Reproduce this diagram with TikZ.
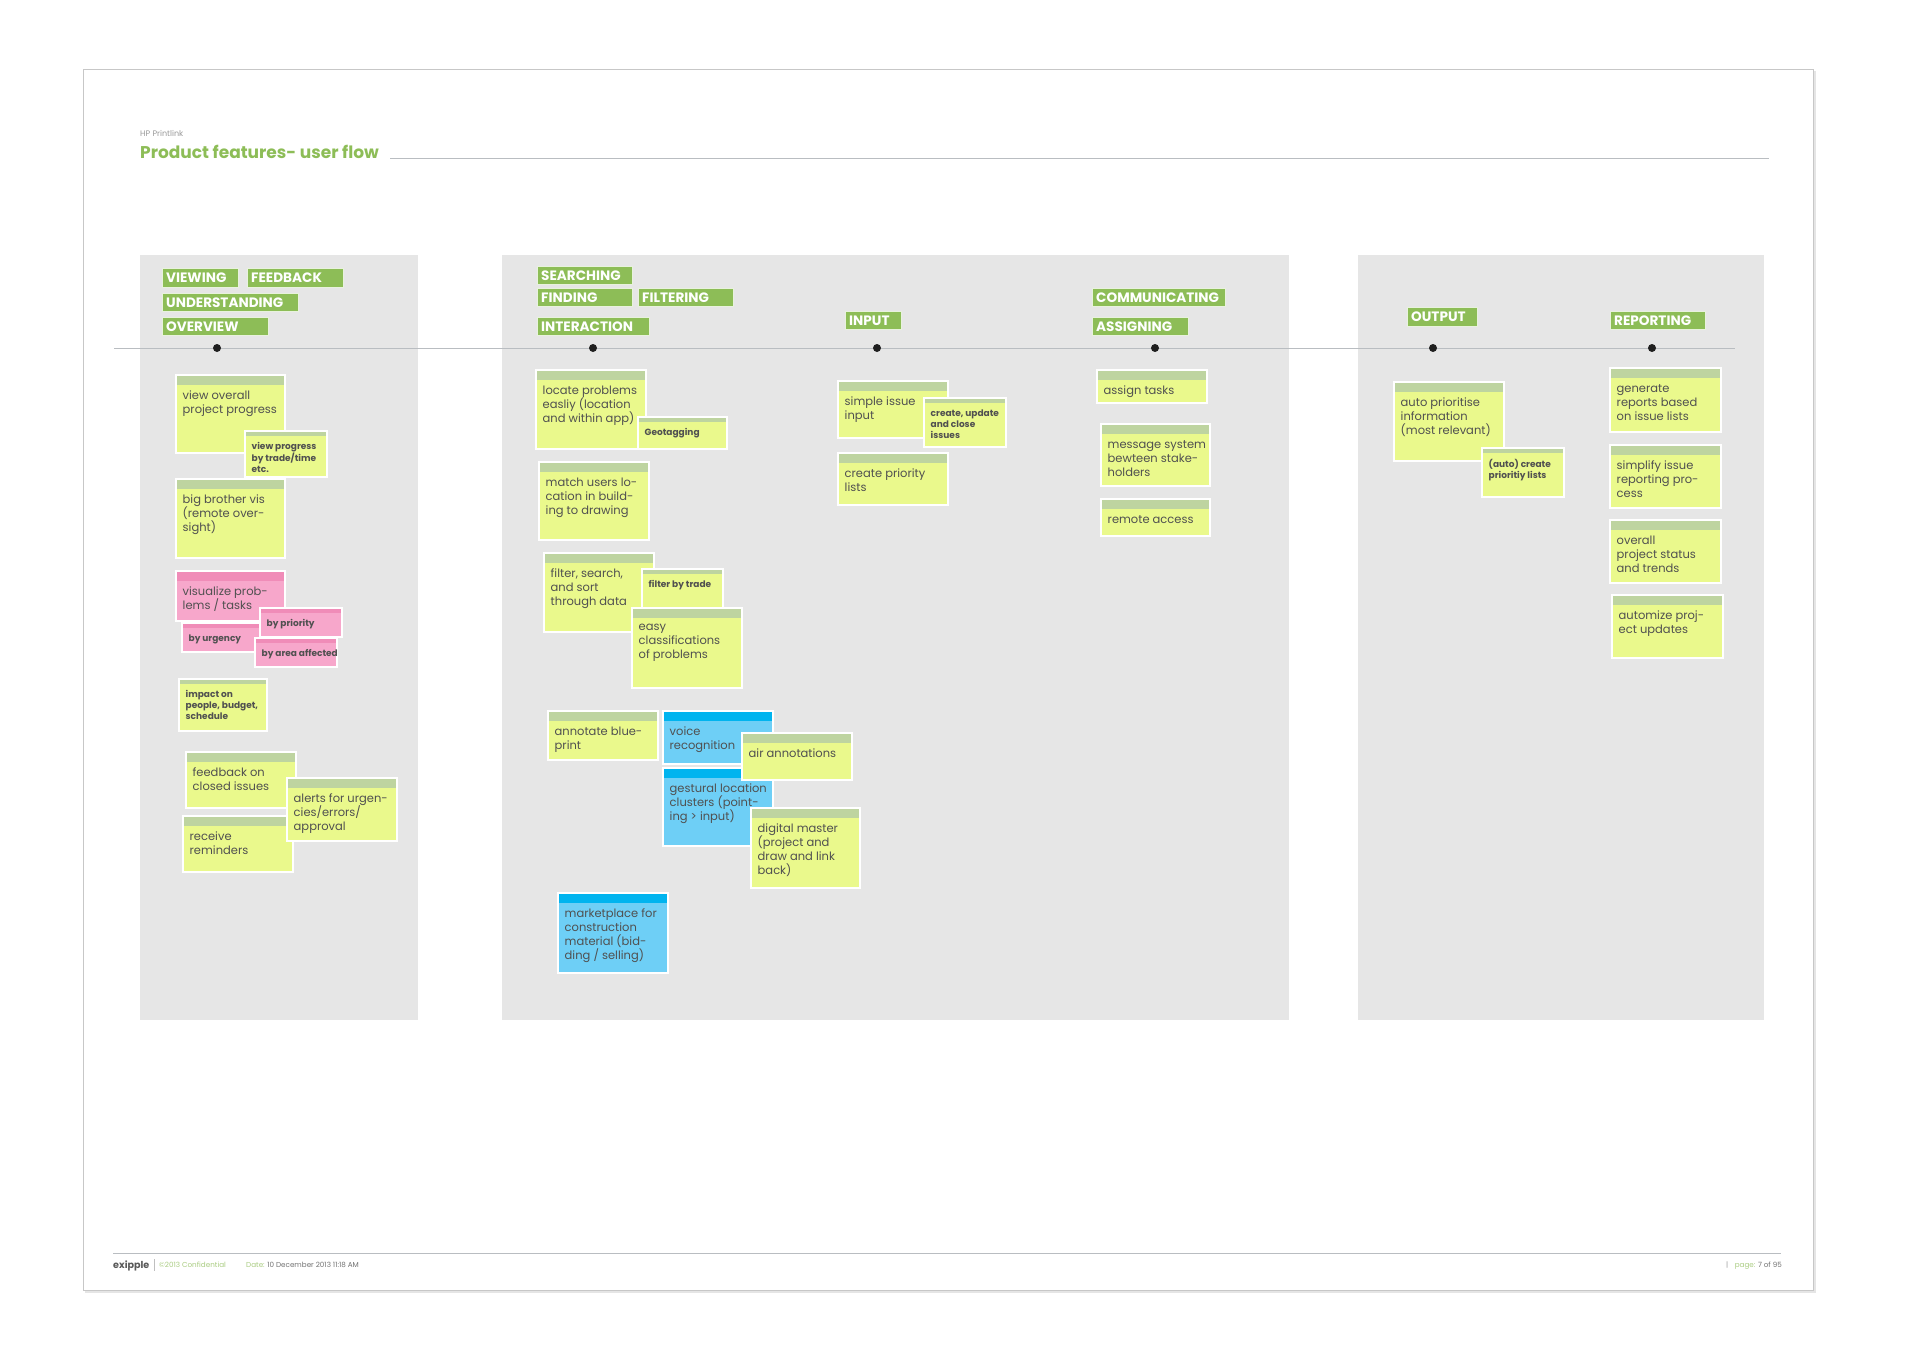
\documentclass[tikz,border=0pt]{standalone}
\usepackage{fontspec}
\setmainfont{Poppins}
\usetikzlibrary{calc}
\definecolor{labgreen}{RGB}{141,189,87}
\definecolor{yh}{RGB}{190,212,160}
\definecolor{yb}{RGB}{234,249,140}
\definecolor{ph}{RGB}{240,140,184}
\definecolor{pb}{RGB}{247,167,203}
\definecolor{bh}{RGB}{0,180,239}
\definecolor{bb}{RGB}{110,207,246}
\definecolor{panel}{RGB}{230,230,230}
\definecolor{txt}{RGB}{80,80,80}
\definecolor{rulec}{RGB}{185,189,193}
\definecolor{ltgreen}{RGB}{170,205,130}
\tikzset{
 notebox/.style={draw=white, line width=1.5pt, inner sep=0pt, outer sep=0pt},
 big/.style={font=\fontsize{11.5}{14}\selectfont, text=txt, align=left, inner sep=0pt},
 small/.style={font=\bfseries\fontsize{9}{11}\selectfont, text=txt, align=left, inner sep=0pt},
 labbox/.style={fill=labgreen, draw=white!80!labgreen, line width=0.8pt, inner sep=0pt},
 labtext/.style={font=\bfseries\fontsize{13.6}{15}\selectfont, text=white, inner sep=0pt},
 dotn/.style={circle, fill=black!88, inner sep=0pt, minimum size=8pt},
 foot/.style={font=\fontsize{7.2}{9}\selectfont, inner sep=0pt},
}
% name, x1, y1, x2, y2, header height, colour prefix, text style, text
\newcommand\stick[9]{%
 \node[notebox, fill=#7b, minimum width={#4-#2}, minimum height={#5-#3}, anchor=north west] (#1) at (#2,#3) {};
 \fill[#7h] ($(#1.north west)+(0.75,0.75)$) rectangle ($(#1.north east)+(-0.75,#6)$);
 \node[#8, anchor=north west] (#1t) at ($(#1.north west)+(6.5,#6+6.5)$) {#9};
}
% name, x, y, w, h, text
\newcommand\lab[6]{%
 \node[labbox, minimum width=#4, minimum height=#5, anchor=north west] (#1) at (#2,#3) {};
 \node[labtext, anchor=west] (#1t) at ($(#1.west)+(4,0)$) {#6};
}
\begin{document}
\begin{tikzpicture}[x=1pt,y=-1pt]
\useasboundingbox (0,0) rectangle (1920,1360);
% page
\fill[black!10] (85,71) rectangle (1816,1293);
\fill[white, draw=black!22, line width=0.8pt] (83,69) rectangle (1813,1290);
% header
\node[font=\fontsize{8}{10}\selectfont, text=black!40, anchor=base west, inner sep=0pt] (hp) at (140,136) {HP Printlink};
\node[font=\fontsize{17}{20}\selectfont\bfseries, text=labgreen, anchor=base west, inner sep=0pt] (title) at (140,158) {Product features- user flow};
\coordinate (hl0) at (390,158);
\coordinate (hl1) at (1769,158);
\draw[rulec, line width=0.8pt] (hl0) -- (hl1);
% panels
\fill[panel] (140,255) rectangle (418,1020);
\fill[panel] (502,255) rectangle (1289,1020);
\fill[panel] (1358,255) rectangle (1764,1020);
% labels
\lab{viewing}{162}{268}{76}{19}{VIEWING}
\lab{feedback}{247}{268}{96}{19}{FEEDBACK}
\lab{underst}{162}{293}{136}{18}{UNDERSTANDING}
\lab{overview}{162}{317}{106}{18}{OVERVIEW}
\lab{searching}{537}{266}{95}{18}{SEARCHING}
\lab{finding}{537}{288}{95}{18}{FINDING}
\lab{filtering}{638}{288}{95}{18}{FILTERING}
\lab{interaction}{537}{317}{112}{18}{INTERACTION}
\lab{input}{845}{311}{56}{18}{INPUT}
\lab{communicating}{1092}{288}{133}{18}{COMMUNICATING}
\lab{assigning}{1092}{317}{96}{18}{ASSIGNING}
\lab{output}{1407}{307}{70}{19}{OUTPUT}
\lab{reporting}{1610}{311}{95}{18}{REPORTING}
% timeline
\coordinate (tl0) at (114,348);
\coordinate (tl1) at (1735,348);
\draw[rulec, line width=1pt] (tl0) -- (tl1);
\node[dotn] (d1) at (217,348) {};
\node[dotn] (d2) at (593,348) {};
\node[dotn] (d3) at (877,348) {};
\node[dotn] (d4) at (1155,348) {};
\node[dotn] (d5) at (1433,348) {};
\node[dotn] (d6) at (1652,348) {};
% left panel notes
\stick{n1}{176}{375}{285}{453}{9.5}{y}{big}{view overall\\project progress}
\stick{n2}{245}{431}{327}{477}{5}{y}{small}{view progress\\by trade/time\\etc.}
\stick{n3}{176}{479}{285}{558}{9.5}{y}{big}{big brother vis\\(remote over-\\sight)}
\stick{p1}{176}{571}{285}{621}{9.5}{p}{big}{visualize prob-\\lems / tasks}
\stick{p2}{182}{623}{264}{652}{5}{p}{small}{by urgency}
\stick{p3}{260}{608}{342}{637}{5}{p}{small}{by priority}
\stick{p4}{255}{638}{337}{667}{5}{p}{small}{by area affected}
\stick{n6}{179}{679}{267}{731}{5}{y}{small}{impact on\\people, budget,\\schedule}
\stick{n7}{186}{752}{296}{808}{9.5}{y}{big}{feedback on\\closed issues}
\stick{n8}{183}{816}{293}{872}{9.5}{y}{big}{receive\\reminders}
\stick{n9}{287}{778}{397}{841}{9.5}{y}{big}{alerts for urgen-\\cies/errors/\\approval}
% middle panel notes
\stick{m1}{536}{370}{646}{449}{9.5}{y}{big}{locate problems\\easliy (location\\and within app)}
\stick{m2}{638}{417}{727}{449}{5}{y}{small}{Geotagging}
\stick{m3}{539}{462}{649}{540}{9.5}{y}{big}{match users lo-\\cation in build-\\ing to drawing}
\stick{m4}{544}{553}{654}{632}{9.5}{y}{big}{filter, search,\\and sort\\through data}
\stick{m5}{642}{569}{723}{608}{5}{y}{small}{filter by trade}
\stick{m6}{632}{608}{742}{688}{9.5}{y}{big}{easy\\classifications\\of problems}
\stick{m7}{548}{711}{658}{760}{9.5}{y}{big}{annotate blue-\\print}
\stick{b1}{663}{711}{773}{764}{9.5}{b}{big}{voice\\recognition}
\stick{b2}{663}{768}{773}{846}{9.5}{b}{big}{gestural location\\clusters (point-\\ing > input)}
\stick{m8}{742}{733}{852}{780}{9.5}{y}{big}{air annotations}
\stick{m9}{751}{808}{860}{888}{9.5}{y}{big}{digital master\\(project and\\draw and link\\back)}
\stick{b3}{558}{893}{668}{973}{9.5}{b}{big}{marketplace for\\construction\\material (bid-\\ding / selling)}
\stick{i1}{838}{381}{948}{438}{9.5}{y}{big}{simple issue\\input}
\stick{i2}{924}{398}{1006}{447}{5}{y}{small}{create, update\\and close\\issues}
\stick{i3}{838}{453}{948}{505}{9.5}{y}{big}{create priority\\lists}
\stick{c1}{1097}{370}{1207}{403}{9.5}{y}{big}{assign tasks}
\stick{c2}{1101}{424}{1210}{486}{9.5}{y}{big}{message system\\bewteen stake-\\holders}
\stick{c3}{1101}{499}{1210}{536}{9.5}{y}{big}{remote access}
% right panel notes
\stick{o1}{1394}{382}{1504}{461}{9.5}{y}{big}{auto prioritise\\information\\(most relevant)}
\stick{o2}{1482}{448}{1564}{497}{5}{y}{small}{(auto) create\\prioritiy lists}
\stick{r1}{1610}{368}{1721}{432}{9.5}{y}{big}{generate\\reports based\\on issue lists}
\stick{r2}{1610}{445}{1721}{508}{9.5}{y}{big}{simplify issue\\reporting pro-\\cess}
\stick{r3}{1610}{520}{1721}{583}{9.5}{y}{big}{overall\\project status\\and trends}
\stick{r4}{1612}{595}{1723}{658}{9.5}{y}{big}{automize proj-\\ect updates}
% footer
\coordinate (fl0) at (113,1253);
\coordinate (fl1) at (1781,1253);
\draw[rulec, line width=0.8pt] (fl0) -- (fl1);
\node[font=\bfseries\fontsize{9.6}{12}\selectfont, text=black!65, anchor=base west, inner sep=0pt] (exipple) at (113,1268) {exipple};
\coordinate (fb0) at (154,1259);
\coordinate (fb1) at (154,1271);
\draw[black!25, line width=0.6pt] (fb0) -- (fb1);
\node[foot, text=ltgreen, anchor=base west] (conf) at (159,1267) {©2013 Confidential};
\node[foot, anchor=base west] (date) at (246,1267) {\textcolor{ltgreen}{Date:} \textcolor{black!55}{10 December 2013 11:18 AM}};
\node[foot, text=black!40, anchor=base west] (pbar) at (1726,1267) {|};
\node[foot, anchor=base east] (page) at (1782,1267) {\textcolor{ltgreen}{page:} \textcolor{black!55}{7 of 95}};
\end{tikzpicture}
\end{document}
